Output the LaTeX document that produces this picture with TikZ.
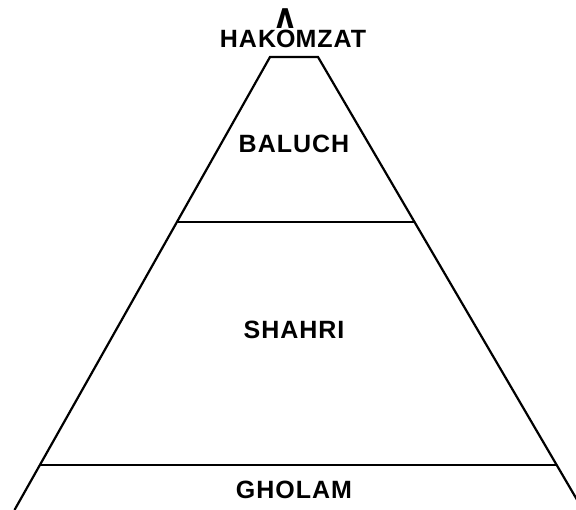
\documentclass[tikz,border=0pt]{standalone}
\usepackage{fontspec}
\usepackage{graphicx}
\newfontfamily\tierfont[LetterSpace=4]{Liberation Sans Bold}
\newfontfamily\wedgefont{DejaVu Sans Bold}

\begin{document}
\begin{tikzpicture}[x=1pt, y=-1pt, line width=2.2pt,
    tierlabel/.style={font=\fontsize{25}{25}\selectfont\tierfont, inner sep=0pt}]
    \useasboundingbox (0,0) rectangle (576,510);
    % corners of the pyramid
    \coordinate (topL) at (270,57);
    \coordinate (topR) at (318,57);
    \coordinate (midL) at (177,222);
    \coordinate (midR) at (414,222);
    \coordinate (lowL) at (40,465);
    \coordinate (lowR) at (557,465);
    \coordinate (baseL) at (14.5,510);
    \coordinate (baseR) at (583,510);

    \draw (baseL) -- (topL) -- (topR) -- (baseR);
    \draw (midL) -- (midR);
    \draw (lowL) -- (lowR);

    \node[tierlabel, anchor=base] (hakomzat) at (293,48) {HAK\ooalign{O\cr\hidewidth\raisebox{19pt}{\scalebox{1.1}[1.45]{\wedgefont ʌ}}\hidewidth}MZAT};
    \node[tierlabel, anchor=base] (baluch) at (294,153) {BALUCH};
    \node[tierlabel, anchor=base] (shahri) at (294,339) {SHAHRI};
    \node[tierlabel, anchor=base] (gholam) at (294,499) {GHOLAM};
\end{tikzpicture}
\end{document}
